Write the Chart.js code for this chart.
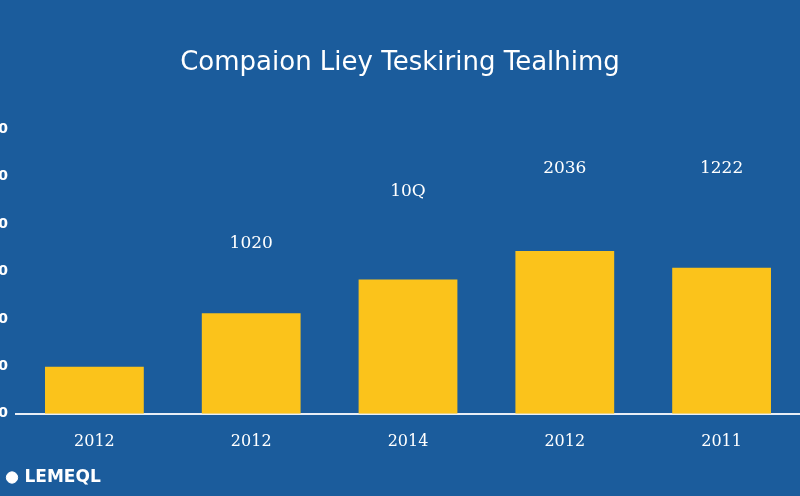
<!DOCTYPE html>
<html>
<head>
<meta charset="utf-8">
<script src="https://cdn.jsdelivr.net/npm/chart.js@4"></script>
<style>
  html, body { margin: 0; padding: 0; background: #1b5c9c; }
  #wrap { width: 800px; height: 496px; }
</style>
</head>
<body>
<div id="wrap"><canvas id="chart"></canvas></div>
<script>
// Chart data
const years = ['2012', '2012', '2014', '2012', '2011']
const values = [9.9, 21.2, 28.3, 34.3, 30.8]
const barLabels = ['', '1020', '10Q', '2036', '1222']
const labelLevels = [null, 35.8, 46.9, 51.8, 51.8]
const yTickLabels = ['0', '/10', '/10', '30', '00', '80', '/10']

// draws the floating value labels at their data level
const valueLabels = {
  id: 'valueLabels',
  afterDatasetsDraw(chart) {
    const { ctx, scales } = chart
    const meta = chart.getDatasetMeta(0)
    ctx.save()
    ctx.fillStyle = '#ffffff'
    ctx.font = '17px "DejaVu Serif"'
    ctx.textAlign = 'center'
    ctx.textBaseline = 'middle'
    meta.data.forEach((bar, i) => {
      if (!barLabels[i]) return
      ctx.fillText(barLabels[i], bar.x, scales.y.getPixelForValue(labelLevels[i]))
    })
    ctx.restore()
  }
}

const ctx = document.getElementById('chart').getContext('2d')
new Chart(ctx, {
  type: 'bar',
  data: {
    labels: years,
    datasets: [{
      label: 'LEMEQL',
      data: values,
      backgroundColor: '#fbc31b',
      barPercentage: 0.63,
      categoryPercentage: 1
    }]
  },
  options: {
    responsive: true,
    maintainAspectRatio: false,
    animation: false,
    layout: { padding: { top: 10, right: 0, left: 0, bottom: 0 } },
    scales: {
      x: {
        grid: { display: false },
        border: { color: '#e8eef6', width: 2 },
        ticks: { color: '#ffffff', font: { family: 'DejaVu Serif', size: 16 }, padding: 10 }
      },
      y: {
        min: 0,
        max: 60,
        afterFit: (scale) => { scale.width = 16 },
        grid: { display: false },
        border: { display: false },
        ticks: {
          stepSize: 10,
          color: '#ffffff',
          font: { family: 'DejaVu Sans', size: 14, weight: 'bold' },
          padding: 0,
          callback: (v, i) => yTickLabels[i]
        }
      }
    },
    plugins: {
      title: {
        display: true,
        text: 'Compaion Liey Teskiring Tealhimg',
        color: '#ffffff',
        font: { family: 'DejaVu Sans', size: 26, weight: '500' },
        padding: { top: 38, bottom: 50 }
      },
      legend: {
        position: 'bottom',
        align: 'start',
        labels: {
          color: '#ffffff',
          usePointStyle: true,
          pointStyle: 'circle',
          boxWidth: 8,
          boxHeight: 8,
          generateLabels: (chart) => [{
            text: 'LEMEQL', fillStyle: '#ffffff', strokeStyle: '#ffffff',
            pointStyle: 'circle', fontColor: '#ffffff', datasetIndex: 0
          }],
          font: { family: 'DejaVu Sans', size: 17, weight: 'bold' },
          padding: 8
        }
      },
      tooltip: { enabled: false }
    }
  },
  plugins: [valueLabels]
})
</script>
</body>
</html>
